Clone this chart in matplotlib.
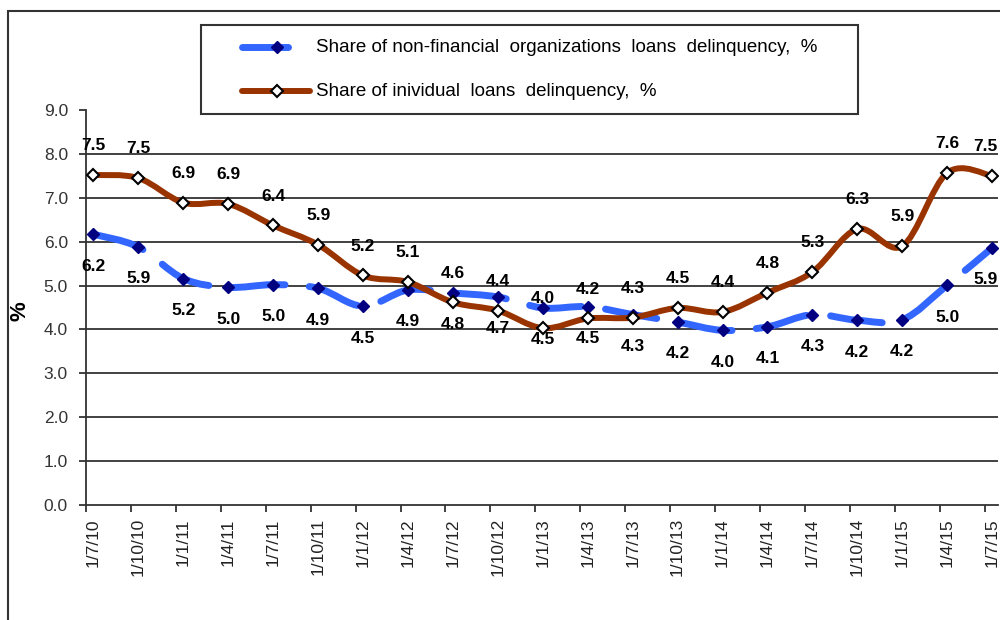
import numpy as np
import matplotlib
matplotlib.use('Agg')
import matplotlib.pyplot as plt
from matplotlib.path import Path
from matplotlib.patches import PathPatch, Rectangle
from matplotlib.lines import Line2D

plt.rcParams['font.family'] = ['Liberation Sans', 'DejaVu Sans']

dates = ['1/7/10', '1/10/10', '1/1/11', '1/4/11', '1/7/11', '1/10/11', '1/1/12',
         '1/4/12', '1/7/12', '1/10/12', '1/1/13', '1/4/13', '1/7/13', '1/10/13',
         '1/1/14', '1/4/14', '1/7/14', '1/10/14', '1/1/15', '1/4/15', '1/7/15']
non_financial = [6.17, 5.88, 5.16, 4.96, 5.02, 4.94, 4.53, 4.90, 4.83, 4.74, 4.49,
                 4.52, 4.34, 4.17, 3.98, 4.06, 4.34, 4.21, 4.22, 5.01, 5.86]
individual = [7.52, 7.45, 6.89, 6.86, 6.37, 5.93, 5.23, 5.08, 4.62, 4.43, 4.03,
              4.25, 4.27, 4.49, 4.40, 4.84, 5.31, 6.29, 5.90, 7.57, 7.50]

label_nf = 'Share of non-financial  organizations  loans  delinquency,  %'
label_ind = 'Share of inividual  loans  delinquency,  %'

BLUE = '#3366FF'
NAVY = '#000080'
BROWN = '#993300'
DARK = '#333333'


def smooth_path(xs, ys):
    # bezier curve through the points, like excel's "smoothed line"
    pts = np.column_stack([xs, ys]).astype(float)
    n = len(pts)
    verts = [pts[0]]
    codes = [Path.MOVETO]
    for i in range(n - 1):
        p0 = pts[max(i - 1, 0)]
        p1 = pts[i]
        p2 = pts[i + 1]
        p3 = pts[min(i + 2, n - 1)]
        verts += [p1 + (p2 - p0) / 6, p2 - (p3 - p1) / 6, p2]
        codes += [Path.CURVE4] * 3
    return Path(verts, codes)


fig = plt.figure(figsize=(10, 6.2), dpi=100)
ax = fig.add_axes([0.086, 0.1855, 0.912, 0.637])

x = np.arange(len(dates))

# series 1: dashed smooth blue line, navy diamonds
ax.add_patch(PathPatch(smooth_path(x, non_financial), fill=False, edgecolor=BLUE,
                       lw=5, linestyle=(0, (7.5, 3.5)), capstyle='round', zorder=3))
ax.plot(x, non_financial, ls='none', marker='D', ms=6.5, color=NAVY, zorder=4)

# series 2: solid smooth brown line, white diamonds
ax.add_patch(PathPatch(smooth_path(x, individual), fill=False, edgecolor=BROWN,
                       lw=4.3, capstyle='round', joinstyle='round', zorder=5))
ax.plot(x, individual, ls='none', marker='D', ms=6.5, mfc='white', mec='black',
        mew=1.5, zorder=6)

# data labels: blue below, brown above; the last ones kept inside the chart
last = len(dates) - 1
for series, dy in [(non_financial, -23), (individual, 21)]:
    for xi, v in zip(x, series):
        ha, dx = ('right', 4) if xi == last else ('center', 0)
        ax.annotate(f'{v:.1f}', (xi, v), xytext=(dx, dy), textcoords='offset points',
                    ha=ha, va='center', fontsize=12.5, fontweight='bold',
                    annotation_clip=False, zorder=8)

ax.set_xlim(-0.165, 20.13)
ax.set_ylim(0, 9)
yt = np.arange(0, 10)
ax.set_yticks(yt)
ax.set_yticklabels([f'{v:.1f}' for v in yt])
for v in yt[1:-1]:
    ax.axhline(v, color=DARK, lw=1.3, zorder=1)

ax.set_xticks(x)
ax.set_xticklabels(dates, rotation=90)
ax.set_xticks(x - 0.165, minor=True)
ax.tick_params(axis='x', which='major', length=0, pad=9.5, labelsize=12.5, labelcolor='#222222')
ax.tick_params(axis='x', which='minor', length=5, width=1.3, color=DARK, direction='out')
ax.tick_params(axis='y', length=5, width=1.3, color=DARK, pad=8, labelsize=12.5,
               labelcolor='#333333')

for s in ['top', 'right']:
    ax.spines[s].set_visible(False)
for s in ['left', 'bottom']:
    ax.spines[s].set_color(DARK)
    ax.spines[s].set_linewidth(1.3)

ax.set_ylabel('%', fontsize=16, fontweight='bold')
ax.yaxis.set_label_coords(-0.061, 0.49)

# outer chart frame (cropped at right and bottom)
fig.add_artist(Rectangle((0.008, -0.1), 1.2, 1.083, transform=fig.transFigure,
                         fill=False, edgecolor=DARK, lw=1.5))

# legend box
fig.add_artist(Rectangle((0.201, 1 - 114 / 620), 0.657, 89 / 620, transform=fig.transFigure,
                         facecolor='white', edgecolor=DARK, lw=1.5, zorder=10))
y1 = 1 - 47 / 620
y2 = 1 - 91 / 620
fig.add_artist(Line2D([0.242, 0.288], [y1, y1], transform=fig.transFigure, color=BLUE,
                      lw=5, solid_capstyle='round', zorder=11))
fig.add_artist(Line2D([0.277], [y1], transform=fig.transFigure, marker='D', ms=6.5,
                      color=NAVY, ls='none', zorder=12))
fig.add_artist(Line2D([0.242, 0.310], [y2, y2], transform=fig.transFigure, color=BROWN,
                      lw=4.3, solid_capstyle='round', zorder=11))
fig.add_artist(Line2D([0.277], [y2], transform=fig.transFigure, marker='D', ms=6.5,
                      mfc='white', mec='black', mew=1.5, ls='none', zorder=12))
fig.text(0.316, y1, label_nf, va='center', ha='left', fontsize=13.5, zorder=12)
fig.text(0.316, y2, label_ind, va='center', ha='left', fontsize=13.5, zorder=12)

fig.savefig('out.png', dpi=100)
